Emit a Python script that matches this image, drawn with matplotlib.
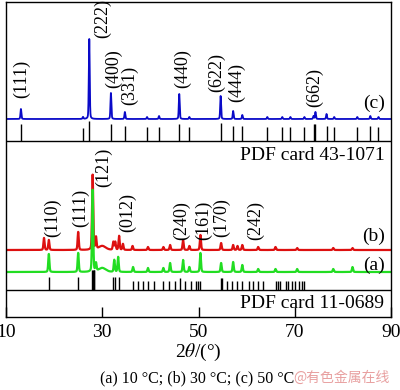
import numpy as np
import matplotlib
matplotlib.use('Agg')
import matplotlib.pyplot as plt

plt.rcParams['font.family'] = ['Liberation Serif', 'DejaVu Serif']
plt.rcParams['mathtext.fontset'] = 'stix'

# ---------------- data (2θ in degrees, intensities in arbitrary units) ----------------
# pattern (c) 50 °C
c_pos = [13.1, 26.0, 27.3, 31.8, 34.7, 39.3, 41.8, 46.0, 48.1, 54.6, 57.2, 59.1,
         64.3, 67.4, 69.1, 72.0, 73.9, 74.3, 76.6, 78.2, 83.0, 85.7, 87.4]
c_int = [10, 2, 80, 26, 7, 2, 3, 25, 2, 23, 8, 4,
         2, 2, 2, 2, 3, 7, 5, 2, 2, 3, 2]
# reference PDF card 43-1071
ref43_pos = [13.1, 26.0, 27.3, 31.85, 34.8, 39.3, 41.8, 46.0, 48.1, 54.7, 57.2, 59.1,
             64.3, 67.4, 69.1, 72.0, 73.9, 74.3, 76.6, 78.2, 83.0, 85.7, 87.4]
ref43_int = [17, 13, 20, 17, 15, 14, 14, 17, 14, 18, 15, 15,
             14, 14, 14, 14, 17, 17, 15, 14, 14, 15, 14]

# pattern (b) 30 °C
b_pos = [17.9, 18.9, 25.0, 28.0, 28.7, 30.0, 32.3, 32.7, 33.5, 34.3, 36.3, 39.5,
         42.7, 44.1, 46.8, 48.1, 50.4, 54.7, 57.2, 58.1, 59.1, 62.4, 66.0, 70.5, 78.0, 82.0]
b_int = [12, 10, 18, 75, 12, 4, 8, 8, 14, 6, 4, 3,
         3, 5, 10, 4, 15, 7, 5, 4, 5, 3, 3, 2, 2, 2]
# pattern (a) 10 °C
a_pos = [18.9, 25.0, 28.0, 28.7, 30.0, 32.5, 33.3, 36.4, 39.5, 42.7, 44.1, 46.8,
         48.1, 50.4, 54.7, 57.2, 59.1, 62.4, 66.0, 70.5, 78.0, 82.0]
a_int = [18, 19, 82, 8, 4, 12, 15, 5, 4, 4, 9, 12,
         5, 19, 9, 10, 7, 3, 3, 3, 3, 5]
# reference PDF card 11-0689
ref11_pos = [18.95, 24.98, 27.9, 28.05, 28.2, 28.35, 32.3, 32.7, 33.5, 36.4, 37.5, 38.5,
             39.5, 40.8, 42.7, 43.9, 45.2, 46.2, 47.2, 48.5, 49.5, 49.9, 50.3, 54.6, 54.8,
             56.0, 57.0, 58.1, 59.1, 60.4, 61.4, 62.4, 63.3, 66.0, 66.6, 67.0, 68.1, 68.7,
             69.5, 70.1, 70.8, 71.6, 72.0]
ref11_int = [13, 13, 20, 20, 20, 20, 13, 13, 13, 9, 9, 9,
             9, 9, 9, 9, 9, 12, 9, 9, 9, 9, 9, 12, 12,
             9, 9, 9, 9, 9, 9, 9, 9, 9, 9, 9, 9, 9,
             9, 9, 9, 9, 9]

labels_c = ['(111)', '(222)', '(400)', '(331)', '(440)', '(622)', '(444)', '(662)']
labels_c_pos = [13.3, 30.0, 32.3, 35.6, 46.6, 53.7, 57.9, 74.1]
labels_c_y = [219, 279, 229, 212, 229, 225, 215, 210]

labels_ab = ['(110)', '(111)', '(121)', '(012)', '(240)', '(161)', '(170)', '(242)']
labels_ab_pos = [19.6, 25.4, 30.2, 35.2, 46.4, 51.0, 54.9, 61.8]
labels_ab_y = [80, 90, 130, 85, 77, 77, 80, 77]

# ---------------- layout constants (axes units) ----------------
base_c, base_b, base_a = 198, 67, 45
sep_top, sep_bot = 176, 27

x = np.linspace(10, 90, 8001)


def pattern(pos, inten, fwhm):
    y = np.zeros_like(x)
    for p, h in zip(pos, inten):
        w = fwhm * (6 if p == 30.0 else 1)
        g = np.exp(-4 * np.log(2) * ((x - p) / w) ** 2)
        l = 1 / (1 + 4 * ((x - p) / w) ** 2)
        y += h * (0.7 * g + 0.3 * l)
    return y


fig = plt.figure(figsize=(4.0, 3.9), dpi=100)
ax = fig.add_axes([6 / 400, 1 - 317 / 390, 385 / 400, 315 / 390])
ax.set_xlim(10, 90)
ax.set_ylim(0, 315)

ax.plot(x, base_c + pattern(c_pos, c_int, 0.22), color='#0a0ac8', lw=1.3)
ax.plot(x, base_b + pattern(b_pos, b_int, 0.28), color='#dd1010', lw=1.6)
ax.plot(x, base_a + pattern(a_pos, a_int, 0.28), color='#22dd22', lw=1.6)

ax.vlines(ref43_pos, sep_top, sep_top + np.array(ref43_int), color='black', lw=1.0)
ax.vlines(ref11_pos, sep_bot, sep_bot + np.array(ref11_int), color='black', lw=1.0)
ax.axhline(sep_top, color='black', lw=1.0)
ax.axhline(sep_bot, color='black', lw=1.0)

for t, px, py in zip(labels_c, labels_c_pos, labels_c_y):
    ax.text(px, py, t, rotation=90, ha='center', va='bottom', fontsize=13)
for t, px, py in zip(labels_ab, labels_ab_pos, labels_ab_y):
    ax.text(px, py, t, rotation=90, ha='center', va='bottom', fontsize=13)

ax.text(88.8, 214, '(c)', ha='right', va='center', fontsize=14)
ax.text(88.8, 81, '(b)', ha='right', va='center', fontsize=14)
ax.text(88.8, 52, '(a)', ha='right', va='center', fontsize=14)
ax.text(88.6, 162, 'PDF card 43-1071', ha='right', va='center', fontsize=14)
ax.text(88.6, 14, 'PDF card 11-0689', ha='right', va='center', fontsize=14)

ax.set_yticks([])
ax.set_xticks([10, 30, 50, 70, 90])
ax.tick_params(axis='x', direction='in', length=7, width=1.0, labelsize=14, pad=5)
for s in ax.spines.values():
    s.set_linewidth(1.0)

ax.set_xlabel(r'2$\theta$/(°)', fontsize=14, labelpad=1)

fig.text(0.735, 1 - 378 / 390, '(a) 10 °C; (b) 30 °C; (c) 50 °C', ha='right', va='center',
         fontsize=11.5)
fig.text(0.733, 1 - 378 / 390, '@有色金属在线', ha='left', va='center', fontsize=10,
         color='#e8a0a0', family=['Noto Sans CJK SC', 'DejaVu Sans'])

fig.savefig('out.png', dpi=100)
